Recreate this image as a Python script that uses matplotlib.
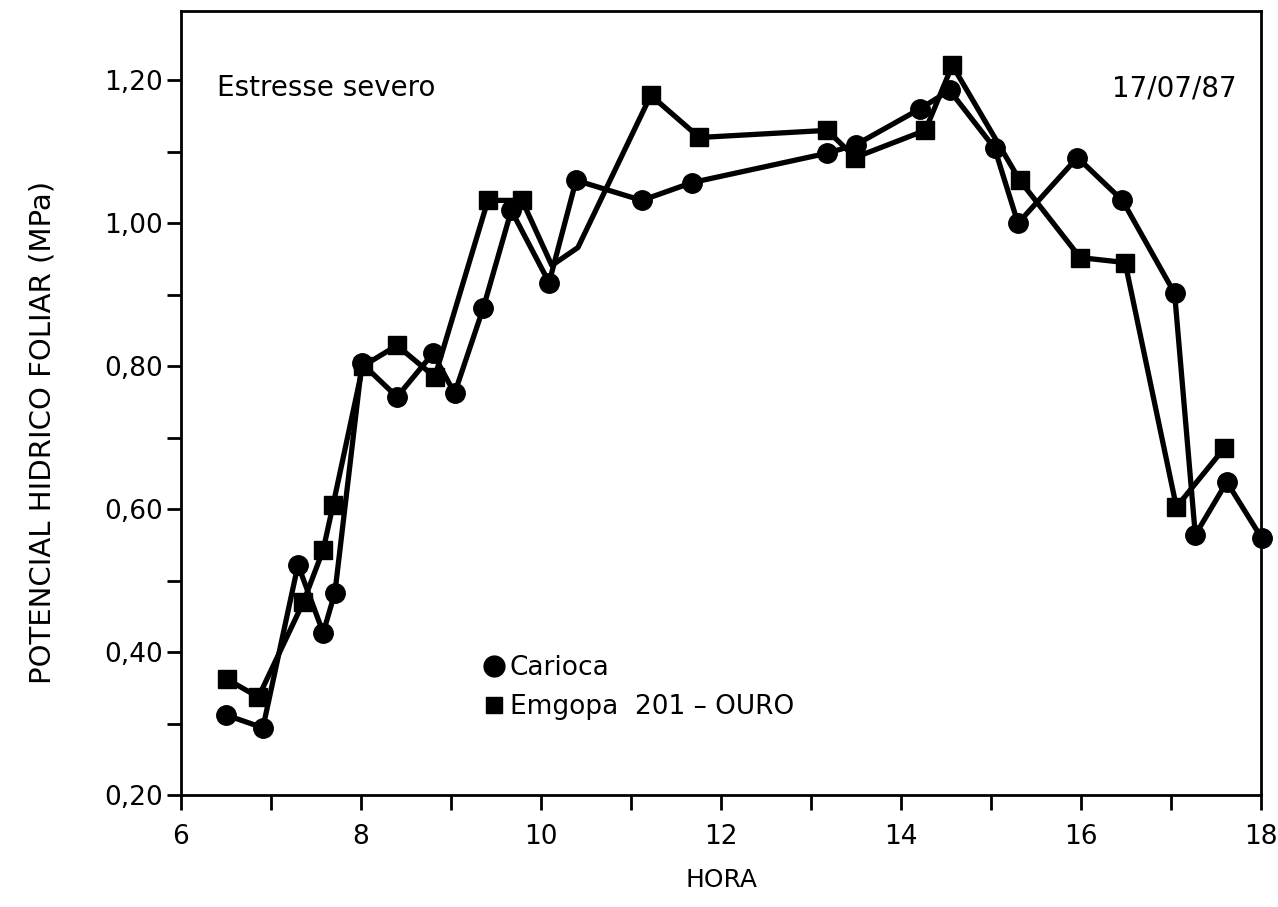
import matplotlib
matplotlib.use("Agg")
import matplotlib.pyplot as plt
from matplotlib.lines import Line2D
from matplotlib.ticker import MultipleLocator, FuncFormatter

# Carioca (circulos)
hora_carioca = [6.50, 6.91, 7.30, 7.58, 7.71, 8.01, 8.40, 8.80, 9.04, 9.36, 9.67,
                10.09, 10.39, 11.12, 11.68, 13.18, 13.50, 14.21, 14.54, 15.04,
                15.30, 15.96, 16.46, 17.04, 17.27, 17.62, 18.01]
pot_carioca = [0.312, 0.294, 0.522, 0.427, 0.483, 0.804, 0.757, 0.818, 0.762, 0.882, 1.018,
               0.917, 1.060, 1.032, 1.057, 1.098, 1.110, 1.160, 1.186, 1.105,
               1.000, 1.092, 1.032, 0.902, 0.564, 0.638, 0.559]

# Emgopa 201-OURO (quadrados); dois vertices perto das 10 h sem marcador
hora_emgopa = [6.51, 6.86, 7.36, 7.58, 7.69, 8.02, 8.40, 8.82, 9.41, 9.79,
               10.12, 10.41, 11.22, 11.76, 13.18, 13.49, 14.27, 14.57, 15.32,
               15.99, 16.49, 17.06, 17.59]
pot_emgopa = [0.362, 0.337, 0.470, 0.543, 0.606, 0.800, 0.829, 0.785, 1.032, 1.032,
              0.941, 0.966, 1.179, 1.120, 1.130, 1.092, 1.130, 1.221, 1.060,
              0.952, 0.945, 0.603, 0.685]
sem_marcador = [10, 11]

plt.rcParams['font.family'] = 'DejaVu Sans'

fig = plt.figure(figsize=(12.78, 9.07), dpi=100)
ax = fig.add_axes([181/1278, 1 - 795/907, 1080/1278, 784/907])

idx_emgopa = [i for i in range(len(hora_emgopa)) if i not in sem_marcador]
ax.plot(hora_emgopa, pot_emgopa, color='black', lw=3.8, marker='s', ms=13,
        markevery=idx_emgopa, clip_on=False, zorder=3)
ax.plot(hora_carioca, pot_carioca, color='black', lw=3.8, marker='o', ms=14,
        clip_on=False, zorder=4)

ax.set_xlim(6, 18)
ax.set_ylim(0.2, 1.297)

ax.xaxis.set_major_locator(MultipleLocator(2))
ax.xaxis.set_minor_locator(MultipleLocator(1))
ax.yaxis.set_major_locator(MultipleLocator(0.2))
ax.yaxis.set_minor_locator(MultipleLocator(0.1))
ax.xaxis.set_major_formatter(FuncFormatter(lambda v, p: f"{v:.0f}"))
ax.yaxis.set_major_formatter(FuncFormatter(lambda v, p: f"{v:.2f}".replace('.', ',')))

ax.tick_params(axis='both', which='both', direction='out', width=2, color='black')
ax.tick_params(axis='x', which='both', length=11, pad=10, labelsize=19)
ax.tick_params(axis='y', which='both', length=10, pad=3, labelsize=19)

for sp in ax.spines.values():
    sp.set_linewidth(2)

ax.set_xlabel('HORA', fontsize=18)
ax.xaxis.set_label_coords(0.5, -0.093)
ax.set_ylabel('POTENCIAL HIDRICO FOLIAR (MPa)', fontsize=21)
ax.yaxis.set_label_coords(-0.115, 0.462)

ax.text(6.4, 1.189, 'Estresse severo', fontsize=20, ha='left', va='center')
ax.text(17.73, 1.189, '17/07/87', fontsize=20, ha='right', va='center')

handles = [
    Line2D([], [], color='black', marker='o', ls='none', ms=15, label='Carioca'),
    Line2D([], [], color='black', marker='s', ls='none', ms=12, label='Emgopa  201 – OURO'),
]
ax.legend(handles=handles, loc='upper left', bbox_to_anchor=(0.28, 0.178),
          frameon=False, fontsize=19, handlelength=0.8, handletextpad=0.2,
          borderpad=0, borderaxespad=0, labelspacing=0.47)

fig.savefig('out.png', dpi=100)
